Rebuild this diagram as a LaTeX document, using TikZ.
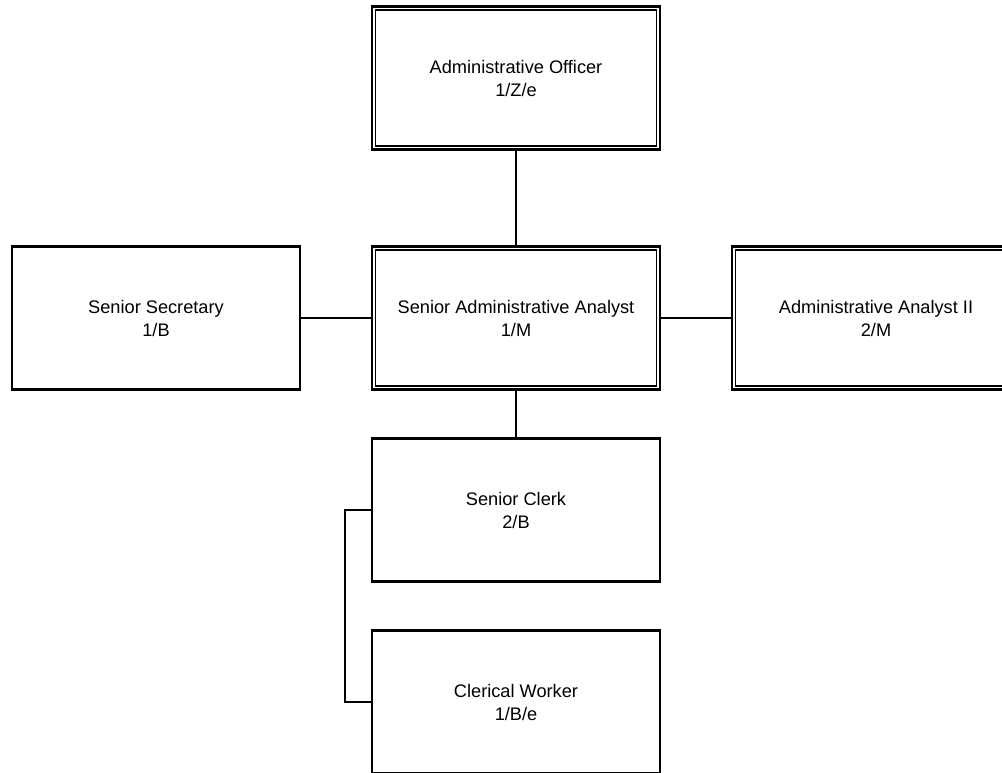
\documentclass[tikz,border=0pt]{standalone}
\usepackage{fontspec}
\setmainfont{Liberation Sans}

\tikzset{
	post/.style={draw,line width=2.2pt,minimum width=288pt,minimum height=143pt,
		inner sep=0pt,align=center,font=\fontsize{18.2}{23}\selectfont},
	link/.style={line width=2.3pt,-}
}
% inner line of the double framed posts
\def\innerframe#1{\draw[line width=1.4pt] ([shift={(4.5,4.5)}]#1.north west) rectangle ([shift={(-4.5,-4.5)}]#1.south east);}

\begin{document}
\begin{tikzpicture}[x=1pt,y=-1pt]
			\useasboundingbox (0,0) rectangle (1002,772);

			% posts
			\node[post] (officer) at (516,78) {Administrative Officer\\1/Z/e};
			\node[post] (secretary) at (156,318) {Senior Secretary\\1/B};
			\node[post] (senioranalyst) at (516,318) {Senior Administrative Analyst\\1/M};
			\node[post] (analyst) at (876,318) {Administrative Analyst II\\2/M};
			\node[post] (clerk) at (516,510) {Senior Clerk\\2/B};
			\node[post] (worker) at (516,702) {Clerical Worker\\1/B/e};

			% double frames
			\innerframe{officer}
			\innerframe{senioranalyst}
			\innerframe{analyst}

			% reporting lines
			\draw[link] (officer) -- (senioranalyst);
			\draw[link] (secretary) -- (senioranalyst);
			\draw[link] (senioranalyst) -- (analyst);
			\draw[link] (senioranalyst) -- (clerk);
			\draw[link] (clerk.west) -- ++(-26,0) |- (worker.west);
		\end{tikzpicture}
\end{document}
